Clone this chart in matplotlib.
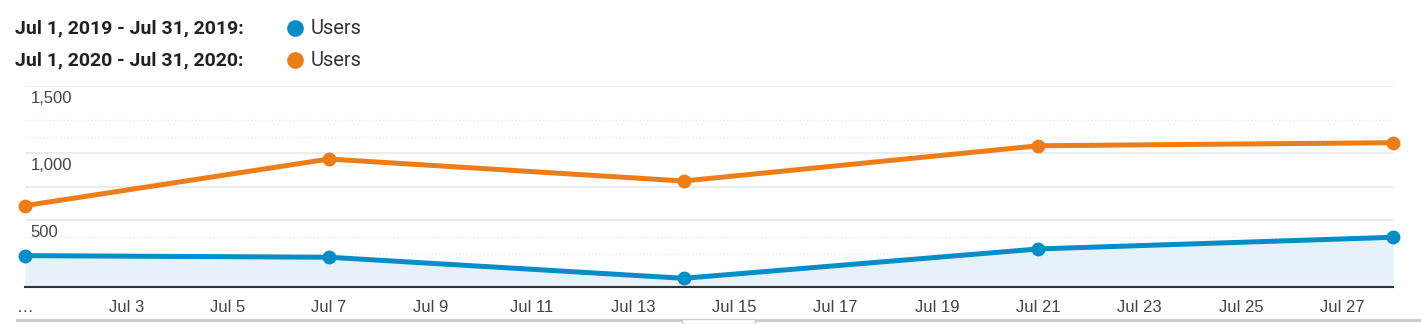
import matplotlib
matplotlib.use("Agg")
import matplotlib.pyplot as plt
import matplotlib.dates as mdates
from matplotlib.patches import Rectangle
from datetime import date

# data (weekly points, Jul 1 - Jul 28)
dates = [date(2020, 7, 1), date(2020, 7, 7), date(2020, 7, 14),
         date(2020, 7, 21), date(2020, 7, 28)]
users_2019 = [234, 222, 65, 284, 371]
users_2020 = [607, 955, 791, 1054, 1077]

legend_labels = ["Jul 1, 2019 - Jul 31, 2019:", "Jul 1, 2020 - Jul 31, 2020:"]
series_names = ["Users", "Users"]

tick_days = [1, 3, 5, 7, 9, 11, 13, 15, 17, 19, 21, 23, 25, 27]
tick_labels = ["…"] + ["Jul %d" % d for d in tick_days[1:]]
y_ticks = [500, 1000, 1500]
y_labels = ["500", "1,000", "1,500"]

BLUE = "#058dc7"
ORANGE = "#ed7e17"
FILL = "#e5f2f9"

fig = plt.figure(figsize=(14.21, 3.24), dpi=100)
ax = fig.add_axes([25 / 1421, 37 / 324, 1368 / 1421, 201 / 324])

# gridlines
for v in [500, 750, 1000, 1500]:
    ax.axhline(v, color="#ebebeb", lw=1.3, zorder=0)
for v in [250, 375, 1120, 1250]:
    ax.axhline(v, color="#ebebeb", lw=1.0, ls=(0, (1, 1.5)), zorder=0)

x = mdates.date2num(dates)
ax.fill_between(x, users_2019, 0, color=FILL, lw=0, zorder=1)
ax.plot(x, users_2019, color=BLUE, lw=3.6, marker="o", ms=9,
        clip_on=False, zorder=3, solid_joinstyle="round")
ax.plot(x, users_2020, color=ORANGE, lw=3.6, marker="o", ms=9,
        clip_on=False, zorder=3, solid_joinstyle="round")

ax.set_xlim(mdates.date2num(date(2020, 7, 1)), mdates.date2num(date(2020, 7, 28)))
ax.set_ylim(0, 1500)

ax.set_xticks(mdates.date2num([date(2020, 7, d) for d in tick_days]))
ax.set_xticklabels(tick_labels, fontsize=12, color="#444444",
                   family=["Liberation Sans", "DejaVu Sans"])
ax.tick_params(axis="x", length=0, pad=9)
ax.set_yticks([])

for v, lab in zip(y_ticks, y_labels):
    ax.text(0.004, v - 97, lab, transform=ax.get_yaxis_transform(),
            ha="left", va="center", fontsize=12, color="#444444",
            family="Liberation Sans", zorder=2)

for s in ["top", "right", "left"]:
    ax.spines[s].set_visible(False)
ax.spines["bottom"].set_color("#333333")
ax.spines["bottom"].set_linewidth(1.5)
ax.spines["bottom"].set_zorder(4)

# legend rows
for i, (lab, name, col) in enumerate(zip(legend_labels, series_names, [BLUE, ORANGE])):
    yy = 1 - (28 + 32 * i) / 324
    fig.text(15 / 1421, yy, lab, fontsize=14, fontweight="bold", family="Roboto",
             color="#212121", ha="left", va="center")
    fig.add_artist(plt.Line2D([295 / 1421], [yy], marker="o", ms=11,
                              color=col, transform=fig.transFigure))
    fig.text(311 / 1421, yy, name, fontsize=14.5, family="Roboto",
             color="#333333", ha="left", va="center")

# bottom bar and small handle
fig.add_artist(Rectangle((16 / 1421, 2 / 324), 1405 / 1421, 3 / 324,
                         transform=fig.transFigure, color="#cccccc", lw=0))
fig.add_artist(Rectangle((682 / 1421, 0), 73 / 1421, 5 / 324,
                         transform=fig.transFigure, facecolor="white",
                         edgecolor="#cccccc", lw=1))

fig.savefig("out.png", dpi=100)
